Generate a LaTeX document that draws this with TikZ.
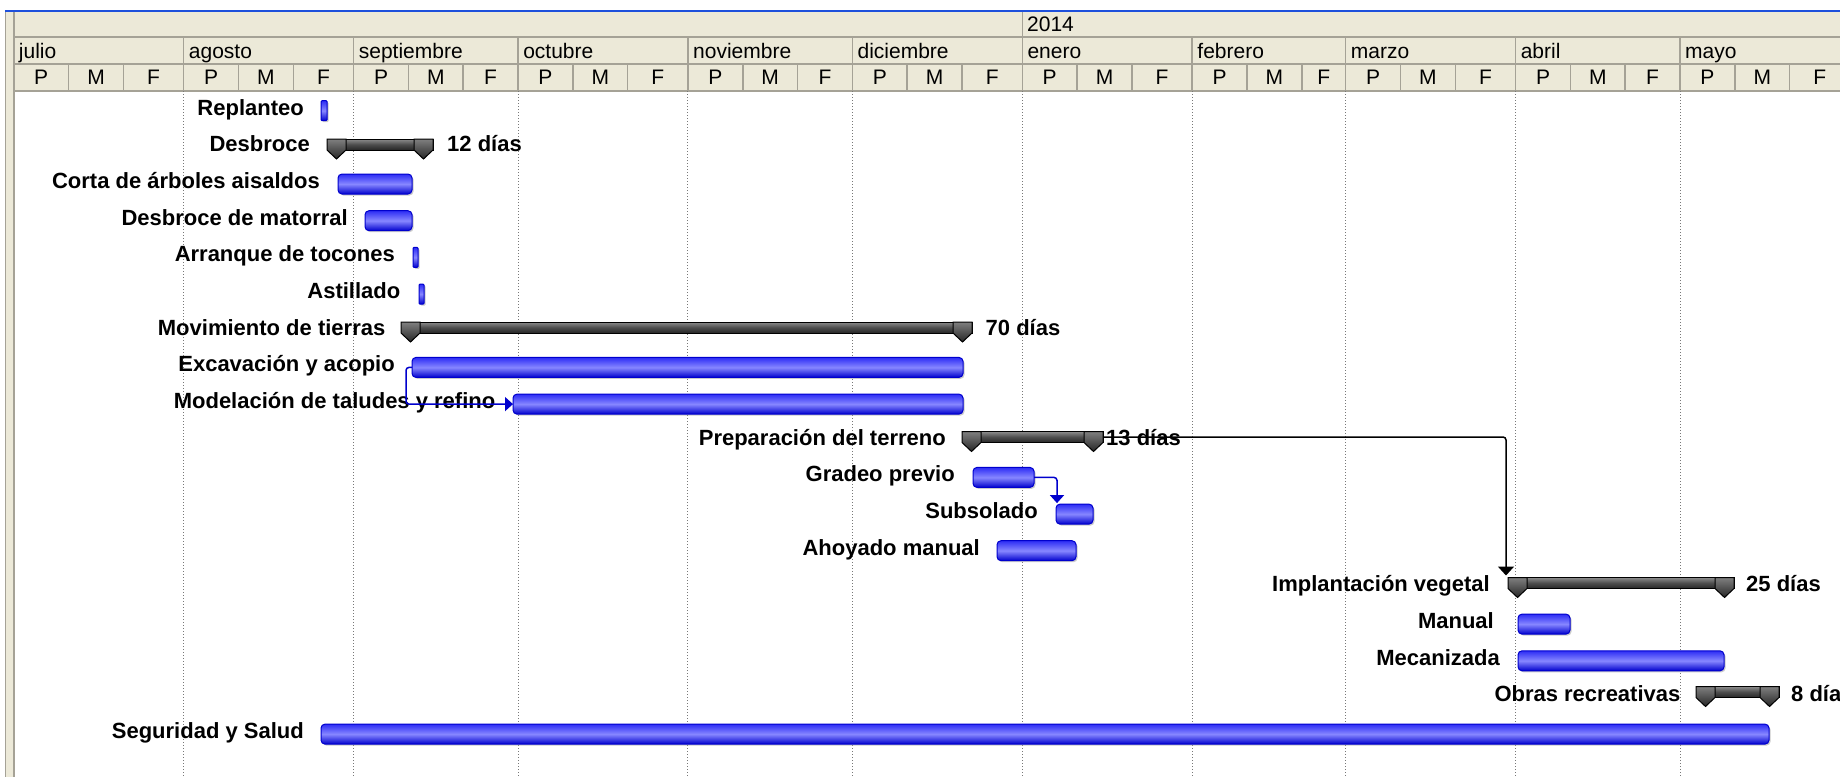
\documentclass[tikz,border=0pt]{standalone}
\usepackage{fontspec}
\setmainfont{Liberation Sans}
\usetikzlibrary{arrows.meta,shadows}

\definecolor{cabecera}{RGB}{236,233,216}
\definecolor{rejilla}{RGB}{165,162,150}
\definecolor{puntos}{RGB}{120,120,120}
\definecolor{azulborde}{RGB}{0,0,205}
\definecolor{azulclaro}{RGB}{135,135,255}
\definecolor{azulmedio}{RGB}{45,45,245}
\definecolor{azulvent}{RGB}{30,80,220}

\tikzset{
  etiqueta/.style={font=\fontsize{22}{24}\selectfont\bfseries, anchor=base east, inner sep=0pt},
  duracion/.style={font=\fontsize{22}{24}\selectfont\bfseries, anchor=base west, inner sep=0pt},
  cab/.style={font=\fontsize{21}{23}\selectfont, inner sep=0pt, anchor=base},
  tarea/.style={rectangle, rounded corners=4pt, draw=azulborde, line width=1pt,
    top color=azulmedio, bottom color=azulborde, middle color=azulclaro,
    minimum height=20pt, inner sep=0pt, outer sep=0pt, anchor=west,
    drop shadow={shadow xshift=1.5pt, shadow yshift=-1.5pt, fill=black!40}},
  resumen/.style={rectangle, draw=black, line width=1pt,
    top color=black!45, bottom color=black!85, middle color=black!70,
    minimum height=11pt, inner sep=0pt, outer sep=0pt, anchor=west},
  tapa/.pic={
    \draw[black, line width=1pt, top color=black!50, bottom color=black!85]
      (0,0) -- (19,0) -- (19,11) -- (9.5,20) -- (0,11) -- cycle;
  },
  enlace/.style={line width=1.5pt, rounded corners=3pt}
}

\begin{document}
\begin{tikzpicture}[x=1pt,y=-1pt]
  \useasboundingbox (0,0) rectangle (1840,777);
  \fill[white] (0,0) rectangle (1840,777);
  \fill[cabecera] (5,11) rectangle (14,777);
  \fill[cabecera] (14,11) rectangle (1840,91);
  \draw[rejilla, line width=1pt] (5,11) -- (5,777);
  \draw[rejilla, line width=1.5pt] (14,11) -- (14,777);
  \draw[rejilla, line width=1.5pt] (14,37) -- (1840,37) (14,64) -- (1840,64) (14,91) -- (1840,91);
  \draw[rejilla, line width=1.5pt] (1022.3,11) -- (1022.3,37);
  \node[cab, anchor=base west] (anio) at (1027,31) {2014};
  \foreach \dia/\lon/\mes in {0/31/julio,31/31/agosto,62/30/septiembre,92/31/octubre,123/30/noviembre,153/31/diciembre,184/31/enero,215/28/febrero,243/31/marzo,274/30/abril,304/31/mayo} {
    \draw[rejilla, line width=1.5pt] ({13.8+5.481*\dia},37) -- ({13.8+5.481*\dia},91)
      ({13.8+5.481*(\dia+10)},64) -- ({13.8+5.481*(\dia+10)},91)
      ({13.8+5.481*(\dia+20)},64) -- ({13.8+5.481*(\dia+20)},91);
    \node[cab, anchor=base west] (mes\dia) at ({18.8+5.481*\dia},58) {\mes};
    \node[cab] (p\dia) at ({13.8+5.481*(\dia+5)},84) {P};
    \node[cab] (m\dia) at ({13.8+5.481*(\dia+15)},84) {M};
    \node[cab] (f\dia) at ({13.8+5.481*(\dia+(20+\lon)/2)},84) {F};
  }
  \foreach \dia in {31,62,92,123,153,184,215,243,274,304}
    \draw[puntos, line width=1pt, dash pattern=on 1pt off 2pt] ({13.8+5.481*\dia},91) -- ({13.8+5.481*\dia},777);
  \draw[azulvent, line width=2pt] (5,11) -- (1840,11);

  \node[etiqueta] (l-rep) at (304,115.2) {Replanteo};
  \node[etiqueta] (l-des) at (310,151.9) {Desbroce};
  \node[etiqueta] (l-cor) at (320,188.5) {Corta de árboles aisaldos};
  \node[etiqueta] (l-mat) at (348,225.2) {Desbroce de matorral};
  \node[etiqueta] (l-arr) at (395,261.9) {Arranque de tocones};
  \node[etiqueta] (l-ast) at (400.5,298.6) {Astillado};
  \node[etiqueta] (l-mov) at (385.5,335.2) {Movimiento de tierras};
  \node[etiqueta] (l-exc) at (395,371.9) {Excavación y acopio};
  \node[etiqueta] (l-mod) at (495.5,408.6) {Modelación de taludes y refino};
  \node[etiqueta] (l-pre) at (946,445.2) {Preparación del terreno};
  \node[etiqueta] (l-gra) at (955,481.9) {Gradeo previo};
  \node[etiqueta] (l-sub) at (1038,518.6) {Subsolado};
  \node[etiqueta] (l-aho) at (980,555.2) {Ahoyado manual};
  \node[etiqueta] (l-imp) at (1490,591.9) {Implantación vegetal};
  \node[etiqueta] (l-man) at (1494,628.6) {Manual};
  \node[etiqueta] (l-mec) at (1500,665.3) {Mecanizada};
  \node[etiqueta] (l-obr) at (1680.6,701.9) {Obras recreativas};
  \node[etiqueta] (l-seg) at (304,738.6) {Seguridad y Salud};

  \node[duracion] (d-des) at (447,151.9) {12 días};
  \node[duracion] (d-mov) at (985.5,335.2) {70 días};
  \node[duracion] (d-pre) at (1106,445.2) {13 días};
  \node[duracion] (d-imp) at (1746,591.9) {25 días};
  \node[duracion] (d-obr) at (1791,701.9) {8 día};

  \node[tarea, rounded corners=1pt, minimum width=6pt] (rep) at (321,110.7) {};
  \node[resumen, minimum width=106pt] (des) at (327,144.5) {};
  \node[tarea, minimum width=74pt] (cor) at (338,184) {};
  \node[tarea, minimum width=47pt] (mat) at (365,220.7) {};
  \node[tarea, rounded corners=1pt, minimum width=5pt] (arr) at (413,257.4) {};
  \node[tarea, rounded corners=1pt, minimum width=5pt] (ast) at (419,294.1) {};
  \node[resumen, minimum width=571pt] (mov) at (401,327.5) {};
  \node[tarea, minimum width=551pt] (exc) at (412,367.4) {};
  \node[tarea, minimum width=450pt] (mod) at (513,404.1) {};
  \node[resumen, minimum width=141pt] (pre) at (962,437) {};
  \node[tarea, minimum width=61pt] (gra) at (973,477.4) {};
  \node[tarea, minimum width=37pt] (sub) at (1056,514.1) {};
  \node[tarea, minimum width=79pt] (aho) at (997,550.7) {};
  \node[resumen, minimum width=226pt] (imp) at (1508,583) {};
  \node[tarea, minimum width=52pt] (man) at (1518,624.1) {};
  \node[tarea, minimum width=206pt] (mec) at (1518,660.8) {};
  \node[resumen, minimum width=83pt] (obr) at (1696,692) {};
  \node[tarea, minimum width=1448pt] (seg) at (321,734.1) {};

  \pic at (des.north west) {tapa};
  \pic at ([xshift=-19pt]des.north east) {tapa};
  \pic at (mov.north west) {tapa};
  \pic at ([xshift=-19pt]mov.north east) {tapa};
  \pic at (pre.north west) {tapa};
  \pic at ([xshift=-19pt]pre.north east) {tapa};
  \pic at (imp.north west) {tapa};
  \pic at ([xshift=-19pt]imp.north east) {tapa};
  \pic at (obr.north west) {tapa};
  \pic at ([xshift=-19pt]obr.north east) {tapa};

  \draw[enlace, azulborde, -{Triangle[width=14pt,length=8pt]}] (exc.west) -- ++(-6,0) |- (mod.west);
  \draw[enlace, azulborde, -{Triangle[width=14pt,length=8pt]}, shorten >=1pt] (gra.east) -| ([xshift=1pt]sub.north west);
  \draw[enlace, black, -{Triangle[width=16pt,length=9pt]}, shorten >=2pt] (pre.east) -| ([xshift=-2pt]imp.north west);
\end{tikzpicture}
\end{document}
